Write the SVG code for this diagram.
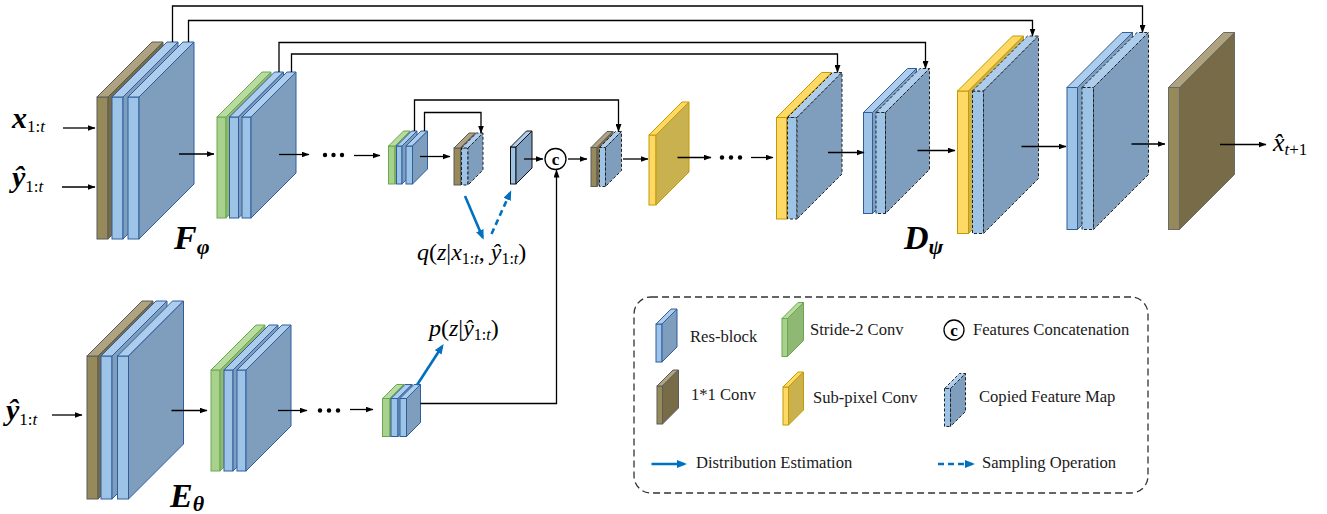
<svg xmlns="http://www.w3.org/2000/svg" width="1327" height="514" viewBox="0 0 1327 514">
<defs>
<style>
.bf{fill:#9dc3e6;stroke:#2e5e9e;stroke-width:1}
.bt{fill:#aecdec;stroke:#2e5e9e;stroke-width:1}
.bs{fill:#7f9ebd;stroke:#2e5e9e;stroke-width:1}
.zf{fill:#9dc3e6;stroke:#111;stroke-width:1}
.zt{fill:#aecdec;stroke:#111;stroke-width:1}
.zs{fill:#7f9ebd;stroke:#111;stroke-width:1}
.cf{fill:#9dc3e6;stroke:#222;stroke-width:1;stroke-dasharray:3 2}
.ct{fill:#aecdec;stroke:#222;stroke-width:1;stroke-dasharray:3 2}
.cs{fill:#7f9ebd;stroke:#222;stroke-width:1;stroke-dasharray:3 2}
.nf{fill:#968a5a;stroke:#5b5b5b;stroke-width:1}
.nt{fill:#afa27f;stroke:#5b5b5b;stroke-width:1}
.ns{fill:#776b48;stroke:#5b5b5b;stroke-width:1}
.gf{fill:#a9d18e;stroke:#6aa84f;stroke-width:1}
.gt{fill:#b8dc9f;stroke:#6aa84f;stroke-width:1}
.gs{fill:#8fb874;stroke:#6aa84f;stroke-width:1}
.yf{fill:#ffd966;stroke:#c49a00;stroke-width:1}
.yt{fill:#ffd966;stroke:#c49a00;stroke-width:1}
.ys{fill:#c9b14f;stroke:#c49a00;stroke-width:1}
.ln{fill:none;stroke:#000;stroke-width:1.3}
.ar{fill:none;stroke:#000;stroke-width:1.3;marker-end:url(#ah)}
.bl{fill:none;stroke:#0070c0;stroke-width:2.6;marker-end:url(#bh)}
.bd{fill:none;stroke:#0070c0;stroke-width:2.6;stroke-dasharray:6 4;marker-end:url(#bh)}
.dot{fill:#000}
.lg{font-family:"Liberation Serif",serif;font-size:16.6px;fill:#1a1a1a}
.m{font-family:"Liberation Serif",serif;font-style:italic;fill:#000}
.mb{font-family:"Liberation Serif",serif;font-style:italic;font-weight:bold;fill:#000}
.up{font-style:normal;font-weight:normal}
.cc{fill:#fff;stroke:#000;stroke-width:1.3}
</style>
<marker id="ah" viewBox="0 0 8 6" refX="7.5" refY="3" markerWidth="8" markerHeight="6" markerUnits="userSpaceOnUse" orient="auto"><path d="M0,0 L8,3 L0,6 z" fill="#000"/></marker>
<marker id="bh" viewBox="0 0 10 8" refX="7" refY="4" markerWidth="10" markerHeight="8" markerUnits="userSpaceOnUse" orient="auto"><path d="M0,0 L10,4 L0,8 z" fill="#0070c0"/></marker>
</defs>
<rect width="1327" height="514" fill="#fff"/>

<!-- F_phi encoder -->
<g id="F1">
<rect class="nf" x="97" y="97" width="11" height="142"/>
<polygon class="nt" points="97,97 152,42 163,42 108,97"/>
<polygon class="ns" points="108,97 163,42 163,184 108,239"/>
<rect class="bf" x="112" y="97" width="11" height="142"/>
<polygon class="bt" points="112,97 167,42 178,42 123,97"/>
<polygon class="bs" points="123,97 178,42 178,184 123,239"/>
<rect class="bf" x="128" y="97" width="11" height="142"/>
<polygon class="bt" points="128,97 183,42 194,42 139,97"/>
<polygon class="bs" points="139,97 194,42 194,184 139,239"/>
</g>
<g id="F2">
<rect class="gf" x="217" y="117" width="9" height="101"/>
<polygon class="gt" points="217,117 262,72 271,72 226,117"/>
<polygon class="gs" points="226,117 271,72 271,173 226,218"/>
<rect class="bf" x="229.5" y="117" width="9" height="101"/>
<polygon class="bt" points="229.5,117 274.5,72 283.5,72 238.5,117"/>
<polygon class="bs" points="238.5,117 283.5,72 283.5,173 238.5,218"/>
<rect class="bf" x="242" y="117" width="9" height="101"/>
<polygon class="bt" points="242,117 287,72 296,72 251,117"/>
<polygon class="bs" points="251,117 296,72 296,173 251,218"/>
</g>
<g id="F3">
<rect class="gf" x="388.5" y="146" width="6.5" height="38"/>
<polygon class="gt" points="388.5,146 403.5,131 410,131 395,146"/>
<polygon class="gs" points="395,146 410,131 410,169 395,184"/>
<rect class="bf" x="396.5" y="146" width="5.5" height="38"/>
<polygon class="bt" points="396.5,146 411.5,131 417,131 402,146"/>
<polygon class="bs" points="402,146 417,131 417,169 402,184"/>
<rect class="bf" x="406" y="146" width="6.5" height="38"/>
<polygon class="bt" points="406,146 421,131 427.5,131 412.5,146"/>
<polygon class="bs" points="412.5,146 427.5,131 427.5,169 412.5,184"/>
</g>
<g id="Q">
<rect class="nf" x="454" y="148" width="6.5" height="37"/>
<polygon class="nt" points="454,148 469,133 475.5,133 460.5,148"/>
<polygon class="ns" points="460.5,148 475.5,133 475.5,170 460.5,185"/>
<rect class="cf" x="461.5" y="148" width="6.5" height="37"/>
<polygon class="ct" points="461.5,148 476.5,133 483,133 468,148"/>
<polygon class="cs" points="468,148 483,133 483,170 468,185"/>
</g>
<g id="Z">
<rect class="zf" x="510.5" y="147" width="5.5" height="37"/>
<polygon class="zt" points="510.5,147 526.5,131 532,131 516,147"/>
<polygon class="zs" points="516,147 532,131 532,168 516,184"/>
</g>
<g id="concat">
<circle class="cc" cx="555.5" cy="159" r="10.5"/>
<text x="555.5" y="164.5" text-anchor="middle" font-family="Liberation Serif, serif" font-size="17" font-weight="bold">c</text>
</g>
<g id="C">
<rect class="nf" x="591" y="147.5" width="6" height="39"/>
<polygon class="nt" points="591,147.5 607,131.5 613,131.5 597,147.5"/>
<polygon class="ns" points="597,147.5 613,131.5 613,170.5 597,186.5"/>
<rect class="cf" x="599.5" y="147.5" width="6" height="39"/>
<polygon class="ct" points="599.5,147.5 615.5,131.5 621.5,131.5 605.5,147.5"/>
<polygon class="cs" points="605.5,147.5 621.5,131.5 621.5,170.5 605.5,186.5"/>
</g>
<g id="Y1">
<rect class="yf" x="649" y="135" width="7" height="70"/>
<polygon class="yt" points="649,135 682,102 689,102 656,135"/>
<polygon class="ys" points="656,135 689,102 689,172 656,205"/>
</g>
<g id="D1">
<rect class="yf" x="776.5" y="117.5" width="10" height="101.5"/>
<polygon class="yt" points="776.5,117.5 821.5,72.5 831.5,72.5 786.5,117.5"/>
<polygon class="ys" points="786.5,117.5 831.5,72.5 831.5,174 786.5,219"/>
<rect class="cf" x="787.5" y="117.5" width="9.5" height="101.5"/>
<polygon class="ct" points="787.5,117.5 832.5,72.5 842,72.5 797,117.5"/>
<polygon class="cs" points="797,117.5 842,72.5 842,174 797,219"/>
</g>
<g id="D2">
<rect class="bf" x="863.5" y="112.5" width="9" height="101"/>
<polygon class="bt" points="863.5,112.5 907.5,68.5 916.5,68.5 872.5,112.5"/>
<polygon class="bs" points="872.5,112.5 916.5,68.5 916.5,169.5 872.5,213.5"/>
<rect class="cf" x="876" y="112.5" width="9.5" height="101"/>
<polygon class="ct" points="876,112.5 920,68.5 929.5,68.5 885.5,112.5"/>
<polygon class="cs" points="885.5,112.5 929.5,68.5 929.5,169.5 885.5,213.5"/>
</g>
<g id="D3">
<rect class="yf" x="957.5" y="91" width="11" height="142.5"/>
<polygon class="yt" points="957.5,91 1012.5,36 1023.5,36 968.5,91"/>
<polygon class="ys" points="968.5,91 1023.5,36 1023.5,178.5 968.5,233.5"/>
<rect class="cf" x="972.5" y="91" width="11" height="142.5"/>
<polygon class="ct" points="972.5,91 1027.5,36 1038.5,36 983.5,91"/>
<polygon class="cs" points="983.5,91 1038.5,36 1038.5,178.5 983.5,233.5"/>
</g>
<g id="D4">
<rect class="bf" x="1067" y="87.5" width="10.5" height="142"/>
<polygon class="bt" points="1067,87.5 1122,32.5 1132.5,32.5 1077.5,87.5"/>
<polygon class="bs" points="1077.5,87.5 1132.5,32.5 1132.5,174.5 1077.5,229.5"/>
<rect class="cf" x="1082" y="87.5" width="11.5" height="142"/>
<polygon class="ct" points="1082,87.5 1137,32.5 1148.5,32.5 1093.5,87.5"/>
<polygon class="cs" points="1093.5,87.5 1148.5,32.5 1148.5,174.5 1093.5,229.5"/>
</g>
<g id="OUT">
<rect class="nf" x="1168.5" y="87.5" width="11" height="142" style="stroke:#6a6a6a"/>
<polygon class="nt" points="1168.5,87.5 1223.5,32.5 1234.5,32.5 1179.5,87.5" style="stroke:#6a6a6a"/>
<polygon class="ns" points="1179.5,87.5 1234.5,32.5 1234.5,174.5 1179.5,229.5" style="stroke:#6a6a6a"/>
</g>

<!-- E_theta encoder -->
<g id="E1">
<rect class="nf" x="87" y="356" width="11" height="143"/>
<polygon class="nt" points="87,356 142,301 153,301 98,356"/>
<polygon class="ns" points="98,356 153,301 153,444 98,499"/>
<rect class="bf" x="101" y="356" width="11" height="143"/>
<polygon class="bt" points="101,356 156,301 167,301 112,356"/>
<polygon class="bs" points="112,356 167,301 167,444 112,499"/>
<rect class="bf" x="117.5" y="356" width="11" height="143"/>
<polygon class="bt" points="117.5,356 172.5,301 183.5,301 128.5,356"/>
<polygon class="bs" points="128.5,356 183.5,301 183.5,444 128.5,499"/>
</g>
<g id="E2">
<rect class="gf" x="211" y="370" width="9" height="101"/>
<polygon class="gt" points="211,370 256,325 265,325 220,370"/>
<polygon class="gs" points="220,370 265,325 265,426 220,471"/>
<rect class="bf" x="224" y="370" width="9" height="101"/>
<polygon class="bt" points="224,370 269,325 278,325 233,370"/>
<polygon class="bs" points="233,370 278,325 278,426 233,471"/>
<rect class="bf" x="237" y="370" width="9" height="101"/>
<polygon class="bt" points="237,370 282,325 291,325 246,370"/>
<polygon class="bs" points="246,370 291,325 291,426 246,471"/>
</g>
<g id="E3">
<rect class="gf" x="382.5" y="398.5" width="7.5" height="38"/>
<polygon class="gt" points="382.5,398.5 396.5,384.5 404,384.5 390,398.5"/>
<polygon class="gs" points="390,398.5 404,384.5 404,422.5 390,436.5"/>
<rect class="bf" x="391" y="398.5" width="7" height="38"/>
<polygon class="bt" points="391,398.5 405,384.5 412,384.5 398,398.5"/>
<polygon class="bs" points="398,398.5 412,384.5 412,422.5 398,436.5"/>
<rect class="bf" x="400" y="398.5" width="6.5" height="38"/>
<polygon class="bt" points="400,398.5 414,384.5 420.5,384.5 406.5,398.5"/>
<polygon class="bs" points="406.5,398.5 420.5,384.5 420.5,422.5 406.5,436.5"/>
</g>

<!-- connectors -->
<g id="connectors">
<path class="ar" d="M172.5,42 V6 H1142.5 V32.5"/>
<path class="ar" d="M188.5,42 V20.5 H1032.5 V36"/>
<path class="ar" d="M279,72 V42.5 H925.5 V68.5"/>
<path class="ar" d="M291.5,72 V54 H837.5 V72.5"/>
<path class="ar" d="M414.5,131 V100 H618.5 V131.5"/>
<path class="ar" d="M424.5,131 V112.5 H481 V133"/>
<path class="ar" d="M63,128 H95"/>
<path class="ar" d="M62,187 H95"/>
<path class="ar" d="M179,154 H214"/>
<path class="ar" d="M279,154.5 H309"/>
<circle class="dot" cx="325" cy="155" r="2.2"/>
<circle class="dot" cx="333.5" cy="155" r="2.2"/>
<circle class="dot" cx="342" cy="155" r="2.2"/>
<path class="ar" d="M354,155.5 H380"/>
<path class="ar" d="M420,156.5 H450"/>
<path class="ar" d="M524,159 H543"/>
<path class="ar" d="M568,159 H587"/>
<path class="ar" d="M623,159 H648"/>
<path class="ar" d="M677.5,157.5 H711"/>
<circle class="dot" cx="722" cy="157.5" r="2.2"/>
<circle class="dot" cx="731" cy="157.5" r="2.2"/>
<circle class="dot" cx="740" cy="157.5" r="2.2"/>
<path class="ar" d="M751,157.5 H773"/>
<path class="ar" d="M828,152.5 H864"/>
<path class="ar" d="M917.5,150.5 H955"/>
<path class="ar" d="M1021.5,146.5 H1066"/>
<path class="ar" d="M1131.5,144 H1165"/>
<path class="ar" d="M1220,144.5 H1266"/>
<path class="ar" d="M52,415 H82"/>
<path class="ar" d="M171.5,410.5 H207"/>
<path class="ar" d="M278,410.5 H307"/>
<circle class="dot" cx="320" cy="410.5" r="2.2"/>
<circle class="dot" cx="329" cy="410.5" r="2.2"/>
<circle class="dot" cx="338" cy="410.5" r="2.2"/>
<path class="ar" d="M350,409.5 H373"/>
<path class="ar" d="M420.5,403.5 H556.5 V170"/>
<path class="bl" d="M465,196 L482.5,237"/>
<path class="bd" d="M491.5,234 L510,193"/>
<path class="bl" d="M417,385 L442,346.5"/>
</g>

<!-- math labels -->
<g id="labels">
<text class="mb" x="12" y="128" font-size="30">x<tspan class="up" font-size="17" dy="4">1:</tspan><tspan font-size="17" font-weight="normal" font-style="italic">t</tspan></text>
<text class="mb" x="12" y="187" font-size="30">ŷ<tspan class="up" font-size="17" dy="5">1:</tspan><tspan font-size="17" font-weight="normal" font-style="italic">t</tspan></text>
<text class="mb" x="6" y="420" font-size="30">ŷ<tspan class="up" font-size="17" dy="5">1:</tspan><tspan font-size="17" font-weight="normal" font-style="italic">t</tspan></text>
<text class="mb" x="174" y="249" font-size="34">F<tspan font-size="22" dy="5">φ</tspan></text>
<text class="mb" x="904" y="249" font-size="34">D<tspan font-size="22" dy="5">ψ</tspan></text>
<text class="mb" x="170" y="507" font-size="34">E<tspan font-size="22" dy="4">θ</tspan></text>
<text class="m" x="417" y="260" font-size="24">q<tspan class="up">(</tspan>z<tspan class="up">|</tspan>x<tspan class="up" font-size="16" dy="4">1:</tspan><tspan font-size="16">t</tspan><tspan class="up" dy="-4">, </tspan>ŷ<tspan class="up" font-size="16" dy="4">1:</tspan><tspan font-size="16">t</tspan><tspan class="up" dy="-4">)</tspan></text>
<text class="m" x="429" y="336" font-size="24">p<tspan class="up">(</tspan>z<tspan class="up">|</tspan>ŷ<tspan class="up" font-size="16" dy="4">1:</tspan><tspan font-size="16">t</tspan><tspan class="up" dy="-4">)</tspan></text>
<text class="m" x="1273" y="151" font-size="26">x̂<tspan font-size="17" dy="4">t</tspan><tspan class="up" font-size="17">+1</tspan></text>
</g>

<!-- legend -->
<g id="legend">
<rect x="634" y="297" width="514" height="196" rx="17" fill="none" stroke="#333" stroke-width="1.3" stroke-dasharray="7 4"/>
<g id="leg-res">
<rect class="bf" x="656" y="324" width="6" height="38"/>
<polygon class="bt" points="656,324 671,309 677,309 662,324"/>
<polygon class="bs" points="662,324 677,309 677,347 662,362"/>
<text class="lg" x="690" y="342">Res-block</text>
</g>
<g id="leg-stride">
<rect class="gf" x="782" y="318.5" width="5.5" height="38"/>
<polygon class="gt" points="782,318.5 798,302.5 803.5,302.5 787.5,318.5"/>
<polygon class="gs" points="787.5,318.5 803.5,302.5 803.5,340.5 787.5,356.5"/>
<text class="lg" x="810" y="335">Stride-2 Conv</text>
</g>
<g id="leg-concat">
<circle class="cc" cx="954" cy="330" r="10"/>
<text x="954" y="335.5" text-anchor="middle" font-family="Liberation Serif, serif" font-size="17" font-weight="bold">c</text>
<text class="lg" x="973" y="335">Features Concatenation</text>
</g>
<g id="leg-1x1">
<rect class="nf" x="657" y="386" width="5.5" height="38"/>
<polygon class="nt" points="657,386 673,370 678.5,370 662.5,386"/>
<polygon class="ns" points="662.5,386 678.5,370 678.5,408 662.5,424"/>
<text class="lg" x="691" y="400">1*1 Conv</text>
</g>
<g id="leg-subpix">
<rect class="yf" x="783" y="387" width="5.5" height="38"/>
<polygon class="yt" points="783,387 798,372 803.5,372 788.5,387"/>
<polygon class="ys" points="788.5,387 803.5,372 803.5,410 788.5,425"/>
<text class="lg" x="813" y="403">Sub-pixel Conv</text>
</g>
<g id="leg-copied">
<rect class="cf" x="944.5" y="388.5" width="6" height="38"/>
<polygon class="ct" points="944.5,388.5 959.5,373.5 965.5,373.5 950.5,388.5"/>
<polygon class="cs" points="950.5,388.5 965.5,373.5 965.5,411.5 950.5,426.5"/>
<text class="lg" x="979" y="402">Copied Feature Map</text>
</g>
<g id="leg-dist">
<path class="bl" d="M651.5,464 H684"/>
<text class="lg" x="696" y="468">Distribution Estimation</text>
</g>
<g id="leg-samp">
<path class="bd" d="M938,464 H972"/>
<text class="lg" x="982" y="468">Sampling Operation</text>
</g>
</g>
</svg>
